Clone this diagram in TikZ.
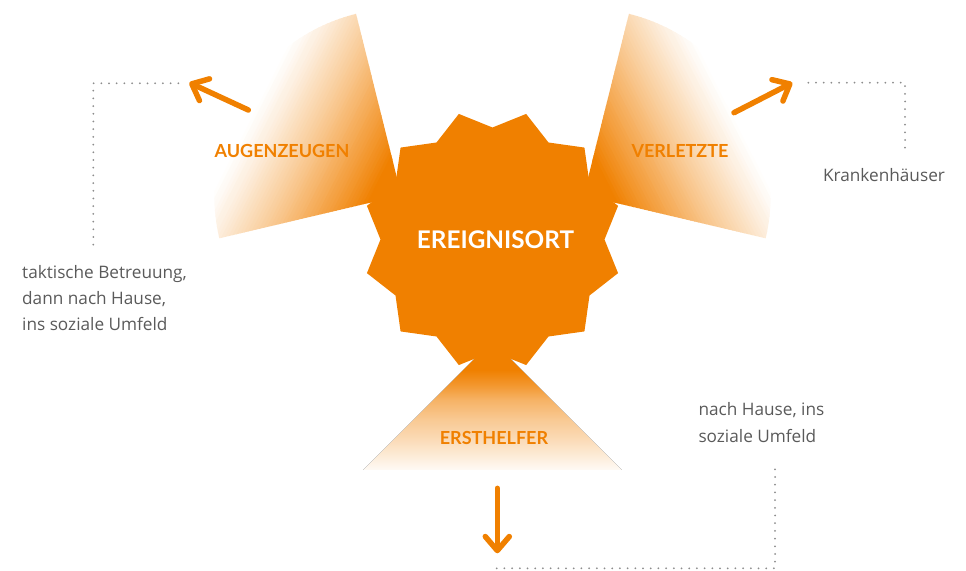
\documentclass[tikz,border=0pt]{standalone}
\usepackage{fontspec}
\setmainfont{Lato}
\newfontfamily\graytext{Open Sans}
\usetikzlibrary{arrows.meta}
\definecolor{ora}{HTML}{F08000}
\definecolor{txtgray}{HTML}{5A5A5A}
\definecolor{dotgray}{HTML}{8C8C8C}
\pgfdeclareverticalshading{bfanshade}{100bp}{color(0bp)=(white); color(25bp)=(ora!4!white); color(28.9bp)=(ora!12!white); color(36.6bp)=(ora!28!white); color(44.4bp)=(ora!42!white); color(52.1bp)=(ora!60!white); color(57.9bp)=(ora!82!white); color(63.7bp)=(ora); color(100bp)=(ora)}
\tikzset{
  lbl/.style={font=\fontsize{18}{21}\selectfont\bfseries, text=ora, inner sep=0pt},
  gtxt/.style={font=\graytext\fontsize{17.2}{26.3}\selectfont, text=txtgray, inner sep=0pt, align=left},
  dots/.style={draw=dotgray, line width=2pt, line cap=round, dash pattern=on 0pt off 7.7pt},
  arr/.style={draw=ora, line width=5.5pt, line cap=round, -{Straight Barb[length=14pt, width=24pt, round]}},
}
\newcommand{\fangradient}{%
  \foreach \p in {275,278,...,419}{%
    \pgfmathtruncatemacro\c{min(100,100*((\p+1.5-275)/145)^1.15)}%
    \fill[ora!\c!white] (\p,-150) -- (\p+3.6,-150) -- (\p+3.6,200) -- (\p,200) -- cycle;
  }%
  \fill[ora] (420,-150) -- (480,-150) -- (480,200) -- (420,200) -- cycle;
}
\begin{document}
\begin{tikzpicture}[x=1pt,y=1pt]
\useasboundingbox (0,0) rectangle (966,570);
% fans
\coordinate (lapex) at (401.3,374.7);
\coordinate (rapex) at (583.7,374.7);
\coordinate (bapex) at (492.5,229.2);
\begin{scope}
  \clip (lapex) -- ++(104:187pt) arc[start angle=104, end angle=193.3, radius=187pt] -- cycle;
  \begin{scope}[shift={(0,570)}, rotate=-27]
    \fangradient
  \end{scope}
\end{scope}
\begin{scope}
  \clip (rapex) -- ++(-13.3:187pt) arc[start angle=-13.3, end angle=76, radius=187pt] -- cycle;
  \begin{scope}[shift={(985,570)}, xscale=-1, rotate=-27]
    \fangradient
  \end{scope}
\end{scope}
\fill[shading=bfanshade] (bapex) -- (363.3,100) -- (621.7,100) -- cycle;
% star
\fill[ora, shift={(492.5,330.5)}] (0:112pt) \foreach \k in {0,...,11}{ -- (\k*30+15:130pt) -- (\k*30+30:112pt)} -- cycle;
\node[font=\fontsize{24.3}{28}\selectfont\bfseries, text=white, inner sep=0pt] (star) at (495.5,330) {EREIGNISORT};
% labels
\node[lbl] (aug) at (282,419) {AUGENZEUGEN};
\node[lbl] (verl) at (680,419) {VERLETZTE};
\node[lbl] (erst) at (494,131.7) {ERSTHELFER};
% arrows
\coordinate (la1) at (248.3,460);
\coordinate (la2) at (189.3,487.3);
\coordinate (ra1) at (734,457.3);
\coordinate (ra2) at (792.3,487.3);
\coordinate (ba1) at (497.3,81.7);
\coordinate (ba2) at (497.3,16.7);
\draw[arr] (la1) -- (la2);
\draw[arr] (ra1) -- (ra2);
\draw[arr] (ba1) -- (ba2);
% dotted lines
\coordinate (ld1) at (178.3,486.7);
\coordinate (ld2) at (93.3,486.7);
\coordinate (ld3) at (93.3,320);
\coordinate (rd1) at (808.3,487.3);
\coordinate (rd2) at (905,487.3);
\coordinate (rd3) at (905,417.7);
\coordinate (bd1) at (775,100.7);
\coordinate (bd2) at (775,1.7);
\coordinate (bd3) at (496.7,1.7);
\draw[dots] (ld1) -- (ld2) -- (ld3);
\draw[dots] (rd1) -- (rd2) -- (rd3);
\draw[dots] (bd1) -- (bd2) -- (bd3);
% gray texts
\node[gtxt, anchor=north west] (ltxt) at (22,305) {taktische Betreuung,\\dann nach Hause,\\ins soziale Umfeld};
\node[gtxt, anchor=base] (kh) at (884,388) {Krankenhäuser};
\node[gtxt, anchor=north west] (home) at (698.3,167.5) {nach Hause, ins\\soziale Umfeld};
\end{tikzpicture}
\end{document}
